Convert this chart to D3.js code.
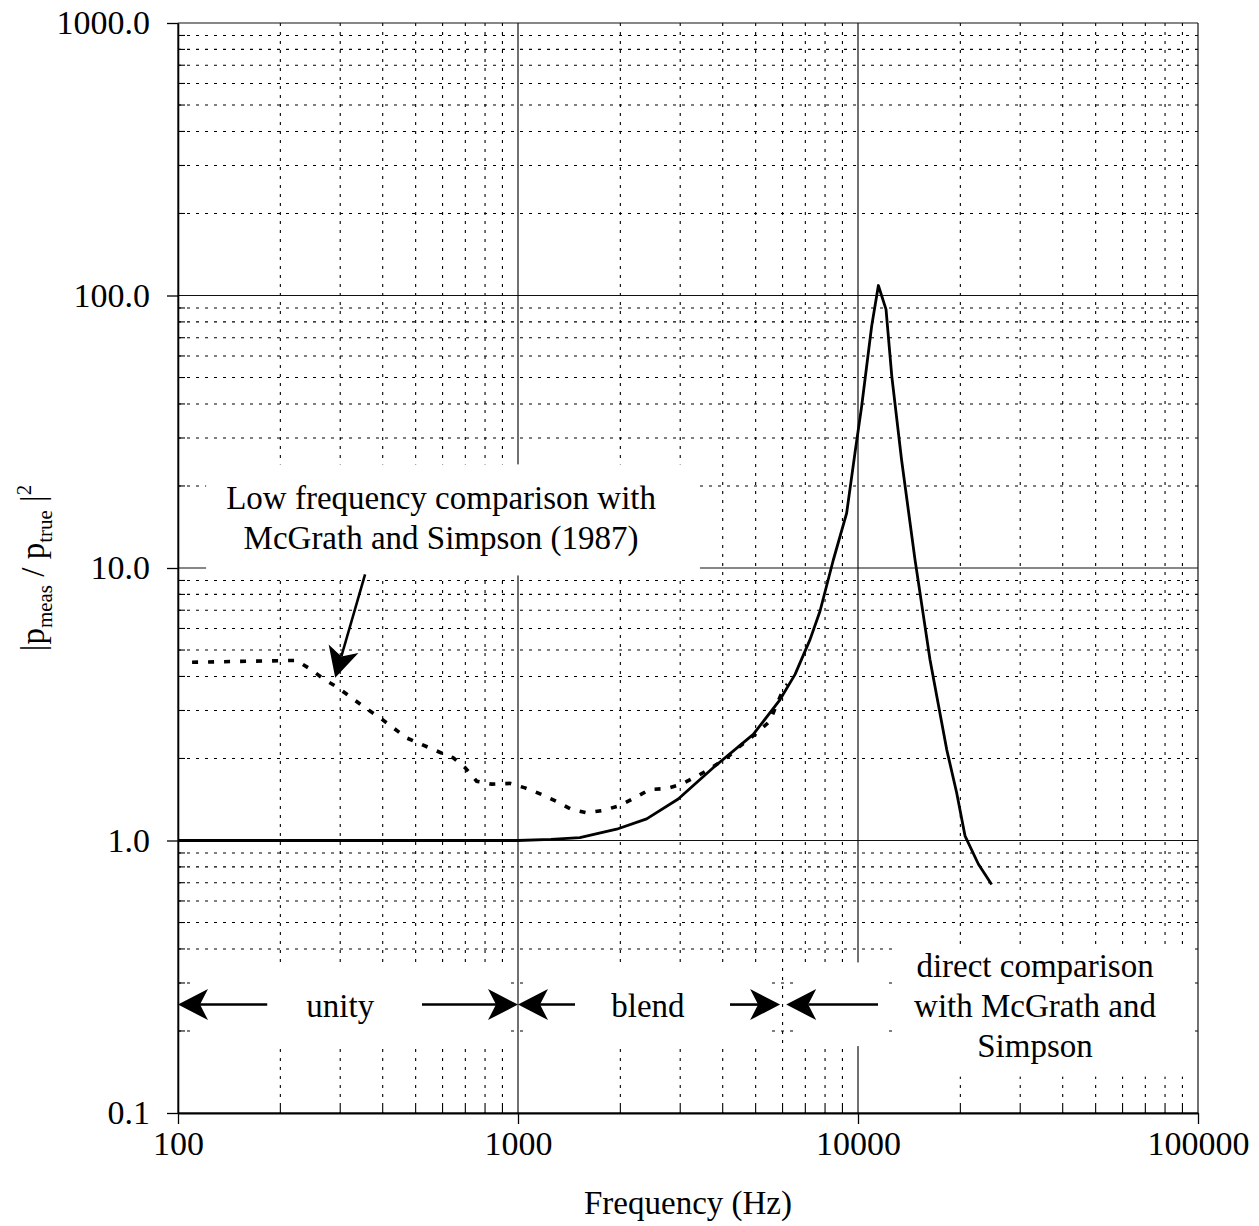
<!DOCTYPE html>
<html><head><meta charset="utf-8">
<script src="https://cdn.jsdelivr.net/npm/d3@7"></script>
<style>
body{margin:0;background:#fff;}
text{font-family:"Liberation Serif","Times New Roman",serif;fill:#000;}
</style>
</head><body>
<svg id="chart" width="1259" height="1226"></svg>
<script>
// ---- data ----
const solidFreq = [100, 1000, 1250, 1520, 1950, 2390, 2960, 3750, 4920, 5900, 6530, 7230, 7730, 8460, 9260, 9800, 10250, 10970, 11480, 12090, 12570, 13430, 14700, 16280, 18230, 19500, 20640, 22590, 24720];
const solidVal  = [1, 1, 1.01, 1.025, 1.10, 1.20, 1.42, 1.85, 2.45, 3.29, 4.07, 5.47, 6.94, 10.7, 15.9, 26.5, 39.2, 77.2, 108.8, 88.9, 50.6, 25.0, 10.8, 4.62, 2.16, 1.50, 1.04, 0.82, 0.69];
const dashFreq = [110, 223, 244, 268, 296, 355, 393, 470, 577, 645, 699, 756, 837, 946, 1049, 1174, 1299, 1439, 1599, 1783, 1995, 2208, 2443, 2737, 3027, 3355, 3712, 4111, 4498, 4978, 5508, 5766, 6030, 6200];
const dashVal  = [4.51, 4.58, 4.27, 3.92, 3.63, 3.07, 2.82, 2.38, 2.13, 2.01, 1.85, 1.65, 1.61, 1.62, 1.56, 1.475, 1.39, 1.30, 1.264, 1.29, 1.344, 1.435, 1.54, 1.55, 1.61, 1.72, 1.85, 2.01, 2.22, 2.45, 2.74, 3.16, 3.58, 3.75];
const xTicks = [100, 1000, 10000, 100000];
const xTickLabels = ["100", "1000", "10000", "100000"];
const yTicks = [0.1, 1, 10, 100, 1000];
const yTickLabels = ["0.1", "1.0", "10.0", "100.0", "1000.0"];
const xTitle = "Frequency (Hz)";
const noteLines = ["Low frequency comparison with", "McGrath and Simpson (1987)"];
const directLines = ["direct comparison", "with McGrath and", "Simpson"];

// ---- layout ----
const svg = d3.select("#chart");
svg.append("rect").attr("width",1259).attr("height",1226).attr("fill","#fff");
const x = d3.scaleLog().domain([100, 100000]).range([178, 1198]);
const y = d3.scaleLog().domain([0.1, 1000]).range([1113, 23]);
const FS = 33;

// minor grid values
const xMinor = [], yMinor = [];
[100, 1000, 10000].forEach(d => { for (let k = 2; k <= 9; k++) xMinor.push(d * k); });
[0.1, 1, 10, 100].forEach(d => { for (let k = 2; k <= 9; k++) yMinor.push(+(d * k).toPrecision(3)); });

const grid = svg.append("g");
grid.selectAll(".vx").data(xMinor).join("line")
  .attr("x1", d => x(d)).attr("x2", d => x(d)).attr("y1", y(1000)).attr("y2", y(0.1))
  .attr("stroke", "#000").attr("stroke-width", 1.1).attr("stroke-dasharray", "3,6");
grid.selectAll(".hy").data(yMinor).join("line")
  .attr("y1", d => y(d)).attr("y2", d => y(d)).attr("x1", x(100)).attr("x2", x(100000))
  .attr("stroke", "#000").attr("stroke-width", 1.1).attr("stroke-dasharray", "3,6");
grid.selectAll(".VX").data(xTicks).join("line")
  .attr("x1", d => x(d)).attr("x2", d => x(d)).attr("y1", y(1000)).attr("y2", y(0.1))
  .attr("stroke", "#111").attr("stroke-width", 1.2);
grid.selectAll(".HY").data(yTicks).join("line")
  .attr("y1", d => y(d)).attr("y2", d => y(d)).attr("x1", x(100)).attr("x2", x(100000))
  .attr("stroke", "#111").attr("stroke-width", 1.2);

// minor inner ticks
grid.selectAll(".mtx").data(xMinor).join("line")
  .attr("x1", d => x(d)).attr("x2", d => x(d)).attr("y1", y(0.1)).attr("y2", y(0.1) - 7)
  .attr("stroke", "#000").attr("stroke-width", 1.1);
grid.selectAll(".mty").data(yMinor).join("line")
  .attr("y1", d => y(d)).attr("y2", d => y(d)).attr("x1", x(100)).attr("x2", x(100) + 7)
  .attr("stroke", "#000").attr("stroke-width", 1.1);

// white text boxes covering the grid (in data units)
const boxes = [
  [121, 3430, 24, 9.39],      // low-frequency note
  [108.5, 947, 0.342, 0.174], // unity
  [1049, 5395, 0.357, 0.176], // blend
  [6527, 11996, 0.357, 0.176],// direct arrow
  [13020, 95900, 0.415, 0.136]// direct text
];
svg.append("g").selectAll("rect").data(boxes).join("rect")
  .attr("x", d => x(d[0])).attr("width", d => x(d[1]) - x(d[0]))
  .attr("y", d => y(d[2])).attr("height", d => y(d[3]) - y(d[2]))
  .attr("fill", "#fff");

// axes
const xAxis = d3.axisBottom(x).tickValues(xTicks).tickFormat((d, i) => xTickLabels[i])
  .tickSize(11).tickSizeOuter(0).tickPadding(7);
const gx = svg.append("g").attr("transform", `translate(0,${y(0.1)})`).call(xAxis);
gx.select(".domain").attr("stroke", "#000").attr("stroke-width", 1.8);
gx.selectAll(".tick line").attr("stroke", "#000").attr("stroke-width", 1.3);
gx.selectAll("text").attr("font-size", 34).attr("font-family", "Liberation Serif").attr("fill", "#000");

const yAxis = d3.axisLeft(y).tickValues(yTicks).tickFormat((d, i) => yTickLabels[i])
  .tickSize(11).tickSizeOuter(0).tickPadding(17);
const gy = svg.append("g").attr("transform", `translate(${x(100)},0)`).call(yAxis);
gy.select(".domain").attr("stroke", "#000").attr("stroke-width", 1.6);
gy.selectAll(".tick line").attr("stroke", "#000").attr("stroke-width", 1.3);
gy.selectAll("text").attr("font-size", 34).attr("font-family", "Liberation Serif").attr("fill", "#000");

// curves
const lineGen = d3.line().x(d => x(d[0])).y(d => y(d[1]));
svg.append("path").datum(dashFreq.map((f, i) => [f, dashVal[i]]))
  .attr("d", lineGen).attr("fill", "none").attr("stroke", "#000")
  .attr("stroke-width", 3.6).attr("stroke-dasharray", "6,10");
svg.append("path").datum(solidFreq.map((f, i) => [f, solidVal[i]]))
  .attr("d", lineGen).attr("fill", "none").attr("stroke", "#000")
  .attr("stroke-width", 2.8).attr("stroke-linejoin", "round");

// arrows
function arrow(f1, v1, f2, v2) {
  const x1 = x(f1), y1 = y(v1), x2 = x(f2), y2 = y(v2);
  const a = Math.atan2(y2 - y1, x2 - x1);
  const g = svg.append("g");
  g.append("line").attr("x1", x1).attr("y1", y1)
    .attr("x2", x2 - 22 * Math.cos(a)).attr("y2", y2 - 22 * Math.sin(a))
    .attr("stroke", "#000").attr("stroke-width", 2.6);
  g.append("path").attr("d", "M0,0 L-30,-15.5 L-22,0 L-30,15.5 Z")
    .attr("transform", `translate(${x2},${y2}) rotate(${a * 180 / Math.PI})`)
    .attr("fill", "#000");
}
const yA = 0.25;
arrow(183, yA, 100, yA);
arrow(522, yA, 1000, yA);
arrow(1471, yA, 1000, yA);
arrow(4203, yA, 5900, yA);
arrow(11450, yA, 6150, yA);
arrow(355, 9.47, 290, 3.96);

// annotation texts
const note = svg.append("text").attr("text-anchor", "middle").attr("font-size", FS);
noteLines.forEach((t, i) => note.append("tspan").attr("x", x(594)).attr("y", y(16.4) + i * 40).text(t));

svg.append("text").attr("text-anchor", "middle").attr("font-size", FS)
  .attr("x", x(300)).attr("y", y(yA) + 12).text("unity");
svg.append("text").attr("text-anchor", "middle").attr("font-size", FS)
  .attr("x", x(2410)).attr("y", y(yA) + 12).text("blend");
const dir = svg.append("text").attr("text-anchor", "middle").attr("font-size", FS);
directLines.forEach((t, i) => dir.append("tspan").attr("x", x(33170)).attr("y", y(yA) - 28 + i * 40).text(t));

// axis titles
svg.append("text").attr("text-anchor", "middle").attr("font-size", FS)
  .attr("x", (x(100) + x(100000)) / 2).attr("y", 1214).text(xTitle);

const yl = svg.append("text").attr("text-anchor", "middle").attr("font-size", FS)
  .attr("transform", `translate(44,${(y(0.1) + y(1000)) / 2}) rotate(-90)`);
yl.append("tspan").text("|p");
yl.append("tspan").attr("font-size", 21).attr("dy", 8).text("meas");
yl.append("tspan").attr("dy", -8).text(" / p");
yl.append("tspan").attr("font-size", 21).attr("dy", 8).text("true");
yl.append("tspan").attr("dy", -8).text(" |");
yl.append("tspan").attr("font-size", 21).attr("dy", -13).text("2");
</script>
</body></html>
